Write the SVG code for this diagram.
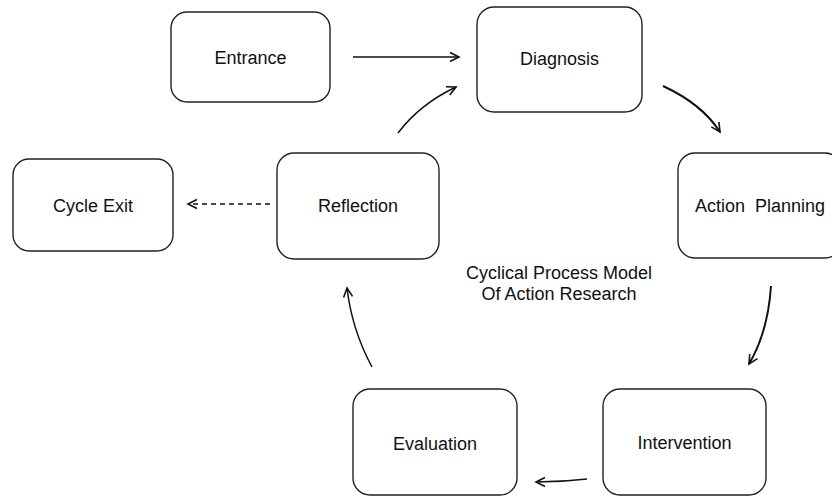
<svg xmlns="http://www.w3.org/2000/svg" width="832" height="496" viewBox="0 0 832 496">
<style>
.box{fill:#fff;stroke:#222;stroke-width:1.4}
.lbl{font-family:"Liberation Sans",Arial,sans-serif;font-size:18px;fill:#111;text-anchor:middle;white-space:pre}
.edge{fill:none;stroke:#111;stroke-width:1.5}
.thick{stroke-width:2}
</style>
<defs>
<marker id="ah" viewBox="0 0 12 12" refX="10" refY="6" markerWidth="12" markerHeight="12" markerUnits="userSpaceOnUse" orient="auto">
<path d="M1,1.5 L10,6 L1,10.5" fill="none" stroke="#111" stroke-width="1.6"/>
</marker>
</defs>
<rect width="832" height="496" fill="#fff"/>
<g id="connectors">
<path class="edge" d="M353,57 L459,57" marker-end="url(#ah)"/>
<path class="edge thick" d="M663,86 Q702,104 720,132" marker-end="url(#ah)"/>
<path class="edge thick" d="M771,286 Q768,332 749,364" marker-end="url(#ah)"/>
<path class="edge" d="M587,479 Q562,482 536,482" marker-end="url(#ah)"/>
<path class="edge" d="M372,367 Q352,330 347,288" marker-end="url(#ah)"/>
<path class="edge" d="M398,133 Q420,104 456,87" marker-end="url(#ah)"/>
<path class="edge" d="M270,204 L188,204" stroke-dasharray="5,4" marker-end="url(#ah)"/>
</g>
<g id="entrance"><rect class="box" x="171" y="12" width="159" height="90" rx="16"/><text class="lbl" x="250.5" y="64">Entrance</text></g>
<g id="diagnosis"><rect class="box" x="477" y="7" width="165" height="105" rx="17"/><text class="lbl" x="559.5" y="65">Diagnosis</text></g>
<g id="action-planning"><rect class="box" x="678" y="153" width="164" height="105" rx="17"/><text class="lbl" x="760" y="212">Action  Planning</text></g>
<g id="cycle-exit"><rect class="box" x="13" y="159" width="160" height="92" rx="16"/><text class="lbl" x="93" y="212">Cycle Exit</text></g>
<g id="reflection"><rect class="box" x="277" y="153" width="162" height="106" rx="17"/><text class="lbl" x="358" y="212">Reflection</text></g>
<g id="evaluation"><rect class="box" x="353" y="389" width="164" height="106" rx="17"/><text class="lbl" x="435" y="450">Evaluation</text></g>
<g id="intervention"><rect class="box" x="603" y="389" width="163" height="106" rx="17"/><text class="lbl" x="684.5" y="449">Intervention</text></g>
<g id="title"><text class="lbl" x="559" y="279">Cyclical Process Model</text><text class="lbl" x="559" y="300">Of Action Research</text></g>
</svg>
